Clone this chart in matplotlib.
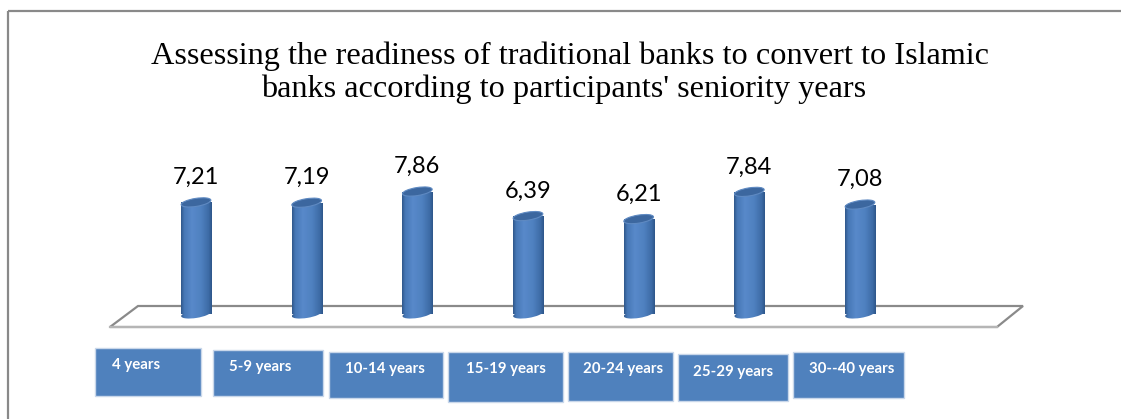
import matplotlib
matplotlib.use('Agg')
import matplotlib.pyplot as plt
import matplotlib.transforms as mtransforms
from matplotlib.patches import Ellipse, Rectangle, Polygon
from matplotlib.colors import LinearSegmentedColormap
import numpy as np

# data ========================================================================
categories = ['4 years', '5-9 years', '10-14 years', '15-19 years',
              '20-24 years', '25-29 years', '30--40 years']
readiness = [7.21, 7.19, 7.86, 6.39, 6.21, 7.84, 7.08]

title_lines = ['Assessing the readiness of traditional banks to convert to Islamic',
               "banks according to participants' seniority years"]

# layout (pixels) =============================================================
W, H = 1121, 419
# category boxes: x0, x1, y0, y1, text x, text y
boxes = [(95, 201, 348, 396, 112, 365),
         (213, 323, 350, 396, 229, 367),
         (329, 443, 352, 398, 345, 369),
         (448, 563, 352, 402, 466, 369),
         (568, 673, 352, 401, 583, 369),
         (678, 788, 354, 401, 693, 372),
         (793, 904, 352, 398, 809, 369)]
floor_px = [(110, 327), (997, 327), (1023, 306), (138, 306)]
FLOOR = 0.53        # floor level in value units
BAR_W = 0.272       # cylinder width in category units
CAP_W, CAP_H, CAP_ANGLE = 30, 8, 9

fig = plt.figure(figsize=(W / 100, H / 100), dpi=100)

# background axes in pixel coordinates ========================================
bg = fig.add_axes([0, 0, 1, 1])
bg.set_xlim(0, W)
bg.set_ylim(H, 0)
bg.axis('off')

bg.add_patch(Rectangle((8, 11), W + 20, H + 20, fill=False,
                       edgecolor='#898989', linewidth=1.6))

bg.add_patch(Polygon(floor_px, closed=True, facecolor='white',
                     edgecolor='#8a8a8a', linewidth=1.6))
bg.plot([floor_px[0][0], floor_px[1][0]], [floor_px[0][1], floor_px[1][1]],
        color='#b5b5b5', linewidth=1.6)

bg.text(570, 56, title_lines[0], ha='center', va='center',
        family='Liberation Serif', fontsize=23.2, color='black')
bg.text(564, 89, title_lines[1], ha='center', va='center',
        family='Liberation Serif', fontsize=23.2, color='black')

for (x0, x1, y0, y1, tx, ty), lab in zip(boxes, categories):
    bg.add_patch(Rectangle((x0, y0), x1 - x0, y1 - y0, facecolor='#4f81bd',
                           edgecolor='#c9d7ea', linewidth=1.0))
    bg.text(tx, ty, lab, ha='left', va='center', color='white',
            family='Lato', fontweight='bold', fontsize=10.8)

# cylinders ===================================================================
x_left = 196 - 55.33
x_right = 860 + 55.33
y_zero = 322.8
px_per_unit = 16.7
ax = fig.add_axes([x_left / W, (H - y_zero) / H, (x_right - x_left) / W,
                   10 * px_per_unit / H])
ax.patch.set_alpha(0)
ax.axis('off')

grad_cmap = LinearSegmentedColormap.from_list(
    'cyl', [(0.0, '#30598d'), (0.1, '#4778b6'), (0.35, '#5889ca'),
            (0.65, '#4f81c0'), (0.9, '#3d6ba6'), (1.0, '#2e578b')])
grad = np.linspace(0, 1, 64).reshape(1, -1)

xs = np.arange(len(categories))
bars = ax.bar(xs, np.array(readiness) - FLOOR, bottom=FLOOR, width=BAR_W,
              color='none', edgecolor='none')

for x, v, bar in zip(xs, readiness, bars):
    im = ax.imshow(grad, cmap=grad_cmap, aspect='auto', zorder=2,
                   extent=[x - BAR_W / 2, x + BAR_W / 2, FLOOR, v])
    im.set_clip_path(bar)

    base_tr = mtransforms.Affine2D() + mtransforms.ScaledTranslation(x, FLOOR, ax.transData)
    base = Ellipse((0, 0), CAP_W, CAP_H, angle=CAP_ANGLE, transform=base_tr)
    im2 = ax.imshow(grad, cmap=grad_cmap, aspect='auto', zorder=2,
                    extent=[x - BAR_W / 2, x + BAR_W / 2, FLOOR - 0.5, FLOOR + 0.5])
    im2.set_clip_path(base)

    top_tr = mtransforms.Affine2D() + mtransforms.ScaledTranslation(x, v, ax.transData)
    ax.add_patch(Ellipse((0, 0), CAP_W, CAP_H, angle=CAP_ANGLE, transform=top_tr,
                         facecolor='#3c679f', edgecolor='#5f8ac2',
                         linewidth=0.8, zorder=3))

    ax.annotate(f'{v:.2f}'.replace('.', ','), (x, v), xytext=(0, 25),
                textcoords='offset pixels', ha='center', va='center',
                family='Lato', fontsize=17, color='black')

ax.set_xlim(-0.5, len(categories) - 0.5)
ax.set_ylim(0, 10)

fig.savefig('out.png', dpi=100)
